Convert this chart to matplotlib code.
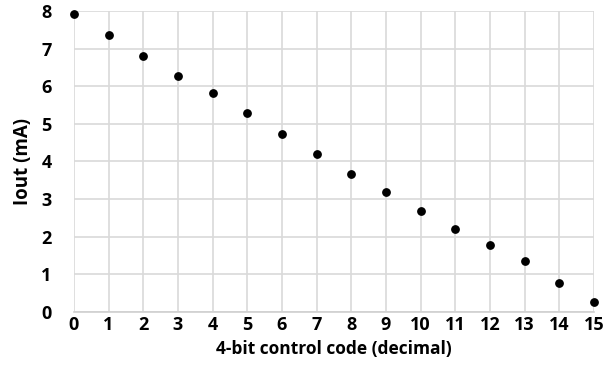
import matplotlib
matplotlib.use("Agg")
import matplotlib.pyplot as plt

# data
codes = list(range(16))
iout = [7.92, 7.36, 6.81, 6.28, 5.81, 5.28, 4.74, 4.21,
        3.68, 3.19, 2.68, 2.21, 1.78, 1.36, 0.78, 0.27]
xticks = list(range(16))
yticks = list(range(9))

plt.rcParams['font.family'] = ['Open Sans', 'DejaVu Sans']
plt.rcParams['font.weight'] = 'bold'

fig = plt.figure(figsize=(6.16, 3.9), dpi=100)
ax = fig.add_axes([0.120, 0.200, 0.844, 0.772])

ax.scatter(codes, iout, s=28, color='black', zorder=3, clip_on=False)

ax.set_xlim(0, 15)
ax.set_ylim(0, 8)
ax.set_xticks(xticks)
ax.set_yticks(yticks)
ax.grid(True, color='#d9d9d9', linewidth=1.2)
ax.set_axisbelow(True)
for s in ['top', 'right', 'left']:
    ax.spines[s].set_visible(False)
ax.spines['bottom'].set_color('#d0d0d0')
ax.spines['bottom'].set_linewidth(1.2)
ax.tick_params(length=0, labelsize=13)
ax.tick_params(axis='x', pad=3)
ax.tick_params(axis='y', pad=16)
for lab in ax.get_xticklabels() + ax.get_yticklabels():
    lab.set_fontweight('bold')

ax.set_xlabel('4-bit control code (decimal)', fontsize=12.5, fontweight='bold', labelpad=4)
ax.set_ylabel('Iout (mA)', fontsize=13.5, fontweight='bold', labelpad=6)

fig.savefig('out.png', dpi=100)
